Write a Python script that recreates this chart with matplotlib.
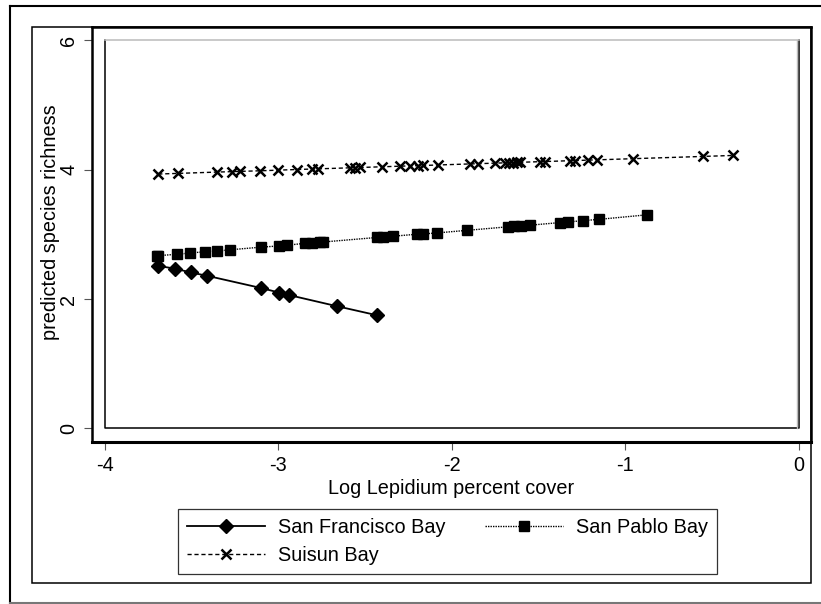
import matplotlib
matplotlib.use("Agg")
import matplotlib.pyplot as plt
from matplotlib.lines import Line2D

plt.rcParams['font.family'] = ['Liberation Sans', 'DejaVu Sans']

# San Francisco Bay
sf_x = [-3.693, -3.597, -3.506, -3.414, -3.101, -2.997, -2.938, -2.665, -2.434]
sf_y = [2.51, 2.47, 2.41, 2.36, 2.17, 2.10, 2.06, 1.89, 1.75]

# San Pablo Bay
sp_x = [-3.700, -3.693, -3.587, -3.510, -3.424, -3.356, -3.280, -3.103, -2.995,
        -2.953, -2.847, -2.809, -2.761, -2.744, -2.434, -2.396, -2.338, -2.203,
        -2.165, -2.088, -1.915, -1.677, -1.640, -1.605, -1.550, -1.378, -1.331,
        -1.245, -1.153, -0.876]
sp_y = [2.67, 2.67, 2.69, 2.71, 2.73, 2.74, 2.76, 2.80, 2.82,
        2.83, 2.86, 2.865, 2.875, 2.88, 2.95, 2.955, 2.97, 3.00,
        3.005, 3.02, 3.06, 3.115, 3.12, 3.13, 3.14, 3.18, 3.19,
        3.21, 3.23, 3.30]

# Suisun Bay
su_x = [-3.693, -3.578, -3.356, -3.270, -3.222, -3.107, -3.001, -2.895, -2.809,
        -2.771, -2.588, -2.559, -2.530, -2.405, -2.300, -2.242, -2.194, -2.165,
        -2.079, -1.896, -1.848, -1.752, -1.695, -1.672, -1.648, -1.625, -1.608,
        -1.493, -1.464, -1.320, -1.291, -1.216, -1.164, -0.957, -0.553, -0.380]
su_y = [3.93, 3.94, 3.96, 3.967, 3.971, 3.98, 3.99, 4.00, 4.007,
        4.01, 4.026, 4.028, 4.031, 4.042, 4.051, 4.056, 4.06, 4.062,
        4.07, 4.086, 4.09, 4.098, 4.103, 4.105, 4.107, 4.109, 4.111,
        4.121, 4.123, 4.136, 4.138, 4.145, 4.149, 4.167, 4.202, 4.217]

x_ticks = [-4, -3, -2, -1, 0]
y_ticks = [0, 2, 4, 6]

W, H = 821, 604
fs = 14.3


def fx(px):
    return px / W


def fy(py):
    return 1 - py / H


fig = plt.figure(figsize=(W / 100, H / 100), dpi=100)

# outer borders
fig.add_artist(Line2D([fx(10), fx(10)], [fy(6), fy(603)], color='black', lw=1.5))
fig.add_artist(Line2D([fx(10), 1.0], [fy(6), fy(6)], color='black', lw=1.5))
fig.add_artist(Line2D([fx(10), 1.0], [fy(603), fy(603)], color='#777777', lw=1.5))
fig.add_artist(plt.Rectangle((fx(32), fy(583)), fx(811) - fx(32), fy(27) - fy(583),
                             fill=False, edgecolor='black', lw=1.1))

ax = fig.add_axes([fx(92), fy(442), fx(811) - fx(92), fy(27) - fy(442)])
ax.set_xlim(-4.0749, 0.0692)
ax.set_ylim(-0.2085, 6.2008)
for sp in ax.spines.values():
    sp.set_linewidth(1.8)
ax.spines['bottom'].set_linewidth(2.2)

# inner plot region box
ax.plot([-4, -4, 0, 0], [6, 0, 0, 6], color='black', lw=1.1, clip_on=False)
ax.plot([-4, 0], [6, 6], color='#bbbbbb', lw=1.1, clip_on=False)
ax.plot([-0.012, -0.012], [0, 6], color='#bbbbbb', lw=1.0, clip_on=False)

ax.plot(sf_x, sf_y, color='black', lw=1.3, marker='D', ms=7,
        label='San Francisco Bay')
ax.plot(sp_x, sp_y, color='black', lw=1.0, ls=(0, (1, 0.8)), marker='s', ms=7.3,
        label='San Pablo Bay')
ax.plot(su_x, su_y, color='black', lw=1.0, ls=(0, (3, 2)), marker='x', ms=7,
        mew=1.8, label='Suisun Bay')

ax.set_xticks(x_ticks)
ax.set_xticklabels([str(t) for t in x_ticks])
ax.set_yticks(y_ticks)
ax.set_yticklabels([str(t) for t in y_ticks])
ax.tick_params(axis='both', length=6, width=0.8, color='#555555', labelsize=fs)
ax.tick_params(axis='x', pad=4)
ax.tick_params(axis='y', pad=4)
plt.setp(ax.get_yticklabels(), rotation=90, va='center')

fig.text(fx(451.5), fy(488), 'Log Lepidium percent cover', fontsize=fs,
         ha='center', va='center')
fig.text(fx(50), fy(222), 'predicted species richness', fontsize=fs,
         rotation=90, ha='center', va='center')

h, l = ax.get_legend_handles_labels()
order = [0, 2, 1]
leg = fig.legend([h[i] for i in order], [l[i] for i in order], ncol=2,
                 loc='upper left', bbox_to_anchor=(fx(178), fy(509)),
                 borderaxespad=0, fontsize=fs, frameon=True, fancybox=False,
                 handlelength=3.95, handletextpad=0.65, columnspacing=1.95,
                 labelspacing=0.45, borderpad=0.45)
leg.get_frame().set_edgecolor('black')
leg.get_frame().set_linewidth(0.9)

fig.savefig('out.png', dpi=100)
